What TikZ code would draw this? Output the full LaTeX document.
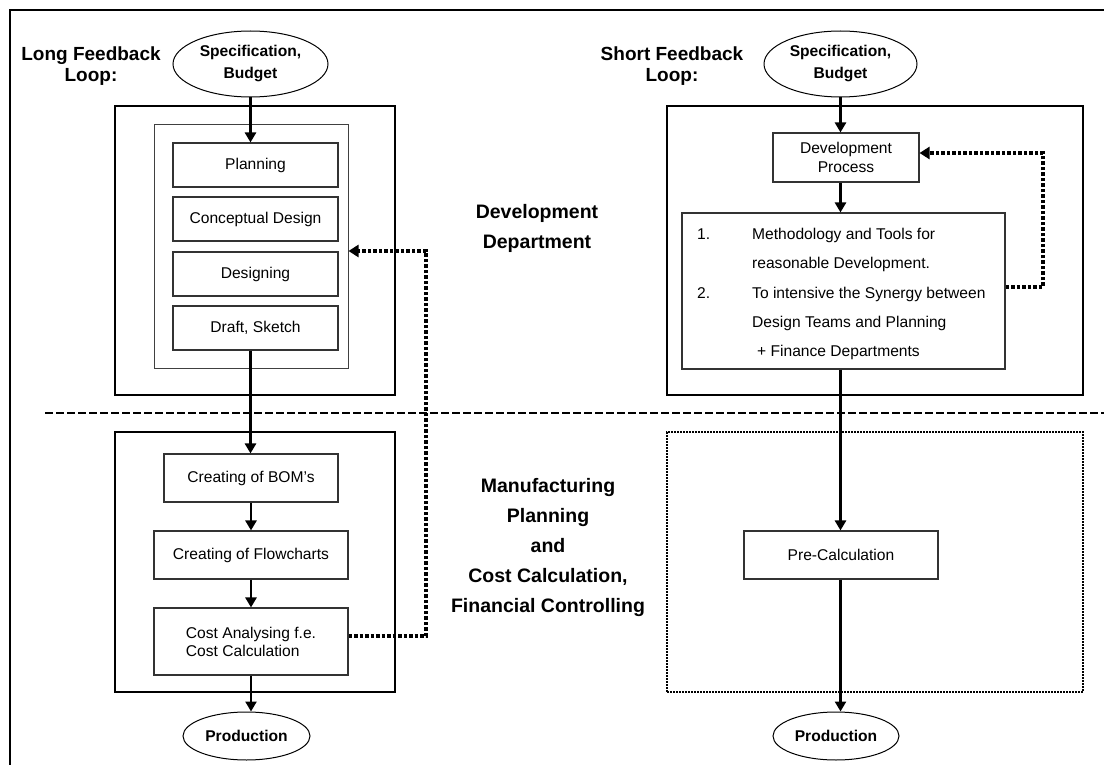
\documentclass[tikz,border=0pt]{standalone}
\usepackage{fontspec}
\setmainfont{Liberation Sans}
\usetikzlibrary{arrows.meta,shapes.geometric,calc}
\begin{document}
\begin{tikzpicture}[x=1pt,y=-1pt,
  bigbox/.style={draw,line width=2.2pt,inner sep=0pt},
  groupbox/.style={draw=black!75,line width=1pt,inner sep=0pt},
  stepbox/.style={draw=black!80,line width=1.1pt,inner sep=0pt,align=center,
    font=\fontsize{15.6}{18}\selectfont},
  oval/.style={ellipse,draw,line width=1pt,inner sep=0pt,align=center,
    font=\bfseries\fontsize{15.6}{22}\selectfont},
  head/.style={align=center,font=\bfseries\fontsize{19}{21.5}\selectfont},
  dept/.style={align=center,font=\bfseries\fontsize{19.5}{30}\selectfont},
  boxtext/.style={anchor=base west,inner sep=0pt,font=\fontsize{15.6}{18}\selectfont},
  flow/.style={line width=2.8pt,-{Triangle[length=10pt,width=11pt]}},
  feedback/.style={line width=4pt,dash pattern=on 3.6pt off 1.9pt,
    -{Triangle[length=10pt,width=12pt]}},
  separator/.style={line width=1.5pt,dash pattern=on 7.5pt off 3.5pt},
  dotbox/.style={draw,line width=2.2pt,dash pattern=on 2pt off 1pt,inner sep=0pt}
]
\useasboundingbox (0,0) rectangle (1104,765);

% outer frame
\coordinate (fr1) at (10,765);
\coordinate (fr2) at (10,10);
\coordinate (fr3) at (1104,10);
\draw[line width=1.2pt] (fr1) -- (fr2) -- (fr3);

% department separator
\coordinate (sepA) at (45,413);
\coordinate (sepB) at (1104,413);
\draw[separator] (sepA) -- (sepB);

% ---------- long feedback loop ----------
\node[head] (longhead) at (91,66) {Long Feedback\\Loop:};
\node[oval,minimum width=155pt,minimum height=66pt] (specL) at (250.5,64) {Specification,\\Budget};

\node[bigbox,minimum width=280pt,minimum height=289pt] (devL) at (255,250.5) {};
\node[groupbox,minimum width=194pt,minimum height=243pt] (innerL) at (251,246.5) {};
\node[stepbox,minimum width=165pt,minimum height=44pt] (plan) at (255.5,165) {Planning};
\node[stepbox,minimum width=165pt,minimum height=44pt] (concept) at (255.5,219) {Conceptual Design};
\node[stepbox,minimum width=165pt,minimum height=44pt] (design) at (255.5,274) {Designing};
\node[stepbox,minimum width=165pt,minimum height=44pt] (draft) at (255.5,328) {Draft, Sketch};

\node[bigbox,minimum width=280pt,minimum height=260pt] (manL) at (255,562) {};
\node[stepbox,minimum width=174pt,minimum height=48pt] (bom) at (251,478) {Creating of BOM's};
\node[stepbox,minimum width=194pt,minimum height=67pt,align=left] (cost) at (251,641.5) {Cost Analysing f.e.\\Cost Calculation};
\node[stepbox,minimum width=194pt,minimum height=48pt] (fchart) at (251,555) {Creating of Flowcharts};
\node[oval,minimum width=127pt,minimum height=48pt] (prodL) at (246.5,736) {Production};

\draw[flow] (specL.south) -- (specL.south |- plan.north);
\draw[flow] (specL |- draft.south) -- (specL |- bom.north);
\draw[flow] (bom.south) -- (fchart.north);
\draw[flow] (fchart.south) -- (cost.north);
\draw[flow] (cost.south) -- (cost.south |- prodL.north);

\coordinate (fbL1) at (426,636);
\coordinate (fbL2) at (426,251);
\draw[feedback] (cost.east |- fbL1) -- (fbL1) -- (fbL2) -- (innerL.east |- fbL2);

% ---------- department labels ----------
\node[dept] (devdept) at (537,228.5) {Development\\Department};
\node[dept] (mandept) at (548,547) {Manufacturing\\Planning\\and\\Cost Calculation,\\Financial Controlling};

% ---------- short feedback loop ----------
\node[head] (shorthead) at (672,66) {Short Feedback\\Loop:};
\node[oval,minimum width=153pt,minimum height=66pt] (specR) at (840.5,64) {Specification,\\Budget};

\node[bigbox,minimum width=416pt,minimum height=289pt] (devR) at (875,250.5) {};
\node[stepbox,minimum width=146pt,minimum height=49pt,font=\fontsize{15.6}{19}\selectfont] (devp) at (846,157.5) {Development\\Process};
\node[stepbox,minimum width=323pt,minimum height=156pt] (tbox) at (843.5,291) {};
\node[boxtext] (n1) at (697,240) {1.};
\node[boxtext] (l1) at (752,240) {Methodology and Tools for};
\node[boxtext] (l2) at (752,269) {reasonable Development.};
\node[boxtext] (n2) at (697,298) {2.};
\node[boxtext] (l3) at (752,298) {To intensive the Synergy between};
\node[boxtext] (l4) at (752,327) {Design Teams and Planning};
\node[boxtext] (l5) at (757,356) {+ Finance Departments};

\node[dotbox,minimum width=416pt,minimum height=260pt] (manR) at (875,562) {};
\node[stepbox,minimum width=194pt,minimum height=48pt] (precalc) at (841,555) {Pre-Calculation};
\node[oval,minimum width=126pt,minimum height=48pt] (prodR) at (836,736) {Production};

\draw[flow] (specR.south) -- (specR.south |- devp.north);
\draw[flow] (specR |- devp.south) -- (specR |- tbox.north);
\draw[flow] (specR |- tbox.south) -- (specR |- precalc.north);
\draw[flow] (specR |- precalc.south) -- (specR |- prodR.north);

\coordinate (fbR1) at (1043,287);
\coordinate (fbR2) at (1043,153);
\draw[feedback] (tbox.east |- fbR1) -- (fbR1) -- (fbR2) -- (devp.east |- fbR2);

\end{tikzpicture}
\end{document}
